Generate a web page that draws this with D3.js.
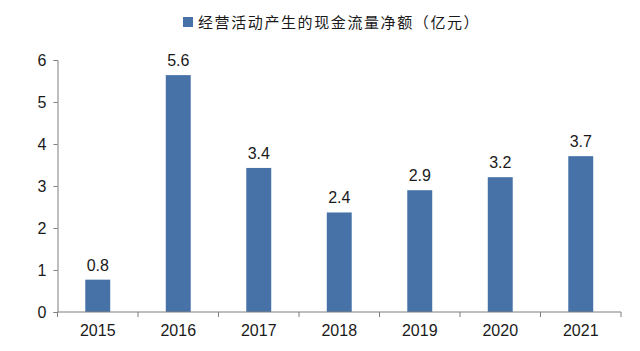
<!DOCTYPE html>
<html>
<head>
<meta charset="utf-8">
<script src="https://cdn.jsdelivr.net/npm/d3@7"></script>
<style>
  body { margin: 0; background: #fff; }
  svg { display: block; font-family: Arial, "Liberation Sans", sans-serif; }
</style>
</head>
<body>
<div id="chart"></div>
<script>
const years = ['2015', '2016', '2017', '2018', '2019', '2020', '2021'];
const values = [0.77, 5.64, 3.43, 2.37, 2.9, 3.21, 3.71];
const valueLabels = ['0.8', '5.6', '3.4', '2.4', '2.9', '3.2', '3.7'];
const yTicks = [0, 1, 2, 3, 4, 5, 6];
const seriesName = '经营活动产生的现金流量净额（亿元）';

const W = 640, H = 351;
const margin = { top: 60, right: 19, bottom: 39, left: 57.5 };
const width = W - margin.left - margin.right;
const height = H - margin.top - margin.bottom;
const barColor = '#4672a8';
const axisColor = '#7f7f7f';

const svg = d3.select('#chart').append('svg')
  .attr('width', W).attr('height', H);

const g = svg.append('g')
  .attr('transform', `translate(${margin.left},${margin.top})`);

const x = d3.scaleBand().domain(years).range([0, width]).paddingInner(0.69).paddingOuter(0.345);
const xTickScale = d3.scaleBand().domain(years).range([0, width]);
const y = d3.scaleLinear().domain([0, 6]).range([height, 0]);

// Bars
g.selectAll('rect.bar')
  .data(values)
  .enter().append('rect')
  .attr('class', 'bar')
  .attr('x', (d, i) => x(years[i]))
  .attr('y', d => y(d))
  .attr('width', x.bandwidth())
  .attr('height', d => height - y(d))
  .attr('fill', barColor);

// Value labels
g.selectAll('text.val')
  .data(values)
  .enter().append('text')
  .attr('class', 'val')
  .attr('x', (d, i) => x(years[i]) + x.bandwidth() / 2)
  .attr('y', d => y(d) - 9)
  .attr('text-anchor', 'middle')
  .attr('fill', '#1a1a1a')
  .style('font-size', '16px')
  .text((d, i) => valueLabels[i]);

// Y axis
const yAxis = g.append('g')
  .call(d3.axisLeft(y).tickValues(yTicks).tickSize(4).tickPadding(7).tickFormat(d3.format('d')));
yAxis.select('.domain').attr('stroke', axisColor);
yAxis.selectAll('line').attr('stroke', axisColor);
yAxis.selectAll('text').attr('fill', '#1a1a1a').style('font-size', '16px');

// X axis: ticks at band boundaries
const xAxis = g.append('g')
  .attr('transform', `translate(0,${height})`);
xAxis.append('line')
  .attr('x1', 0).attr('x2', width)
  .attr('stroke', axisColor);
xAxis.selectAll('line.tick')
  .data(years.concat(['end']))
  .enter().append('line')
  .attr('class', 'tick')
  .attr('x1', (d, i) => i * xTickScale.step())
  .attr('x2', (d, i) => i * xTickScale.step())
  .attr('y1', 0).attr('y2', 5)
  .attr('stroke', axisColor);
xAxis.selectAll('text')
  .data(years)
  .enter().append('text')
  .attr('x', d => xTickScale(d) + xTickScale.bandwidth() / 2)
  .attr('y', 24)
  .attr('text-anchor', 'middle')
  .attr('fill', '#1a1a1a')
  .style('font-size', '16px')
  .text(d => d);

// Legend
const legend = svg.append('g').attr('transform', 'translate(183,15)');
legend.append('rect')
  .attr('width', 10).attr('height', 10).attr('y', 2)
  .attr('fill', barColor);
legend.append('text')
  .attr('x', 15).attr('y', 12.5)
  .attr('fill', '#1a1a1a')
  .style('font-family', '"Noto Sans CJK SC", sans-serif')
  .style('font-size', '15px')
  .style('letter-spacing', '1.6px')
  .text(seriesName);
</script>
</body>
</html>
